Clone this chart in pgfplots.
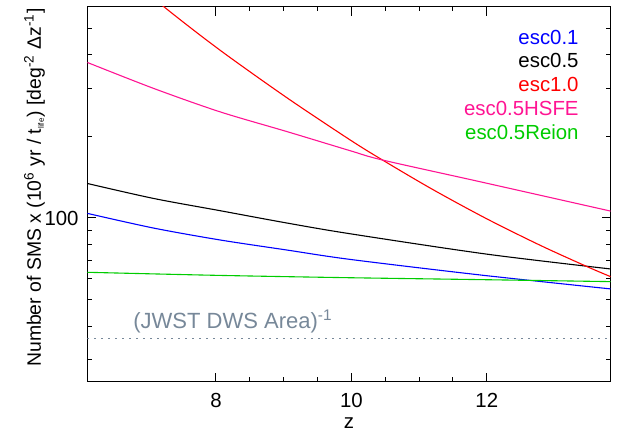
\documentclass[border=0pt]{standalone}
\usepackage{fontspec}
\setmainfont{Liberation Sans}
\usepackage{pgfplots}
\pgfplotsset{compat=1.18}
\definecolor{pinkc}{RGB}{255,20,147}
\definecolor{greenc}{RGB}{0,204,0}
\definecolor{slatec}{RGB}{119,136,153}
\begin{document}
\begin{tikzpicture}
\useasboundingbox (-43.65pt,-24.75pt) rectangle (265.35pt,190.75pt);
\begin{axis}[
  at={(0,0)}, anchor=south west,
  scale only axis, width=261.7pt, height=187.4pt,
  xmin=6.1, xmax=13.83, ymode=log, ymin=25, ymax=600,
  xtick={8,10,12}, minor x tick num=3,
  ytick={100}, yticklabels={100},
  minor ytick={30,40,50,60,70,80,90,200,300,400,500},
  tick align=inside, xtick pos=both, ytick pos=both,
  xticklabel pos=lower, yticklabel pos=left,
  major tick length=4.5pt, minor tick length=2.4pt,
  every tick/.style={black, line width=0.5pt},
  axis line style={line width=0.6pt},
  /pgf/number format/assume math mode=true,
  xticklabel style={inner sep=0pt, anchor=north, yshift=-5.75pt, font=\fontsize{10.2}{12}\selectfont},
  yticklabel style={inner sep=0pt, anchor=east, xshift=-4.15pt, font=\fontsize{10.2}{12}\selectfont},
  every axis plot/.append style={smooth, tension=0.5, line width=0.55pt},
]
\addplot[slatec, line width=0.7pt, dash pattern=on 0.7pt off 2.8pt, sharp plot] coordinates {(6.1,36) (13.83,36)};
\addplot[blue] coordinates {
(6.1,104) (7.08,91.8) (8.06,83) (9.05,76.2) (9.98,70.4) (11.9,61.7) (13.83,54.8)};
\addplot[black] coordinates {
(6.1,134) (7.08,118) (8.06,106.4) (9.05,95.8) (9.98,87.5) (12.0,73.6) (13.83,64.9)};
\addplot[red] coordinates {
(6.1,1025) (7.23,600) (8.06,415) (9.05,277) (9.98,194) (10.46,163.5) (11.2,127.4) (12.0,99.3) (12.8,79.1) (13.5,65.9) (13.83,60.8)};
\addplot[pinkc] coordinates {
(6.1,374) (7.08,300) (8.06,246) (9.05,208) (9.98,177) (10.46,163.5) (11.9,136) (13.83,106)};
\addplot[greenc] coordinates {
(6.1,63.1) (8.0,61.5) (9.9,60.3) (11.9,59.3) (13.83,58.3)};
\end{axis}
\begin{scope}[every node/.style={inner sep=0pt, font=\fontsize{10.2}{12}\selectfont}]
\node[anchor=base east, text=blue] at (245.85pt,168.6pt) {esc0.1};
\node[anchor=base east, text=black] at (245.85pt,156.75pt) {esc0.5};
\node[anchor=base east, text=red] at (245.85pt,144.85pt) {esc1.0};
\node[anchor=base east, text=pinkc] at (245.85pt,133pt) {esc0.5HSFE};
\node[anchor=base east, text=greenc] at (245.85pt,121.1pt) {esc0.5Reion};
\node[anchor=base west, text=slatec, font=\fontsize{11}{13}\selectfont] at (22.85pt,26.6pt) {(JWST DWS Area)\textsuperscript{-1}};
\node[anchor=base] at (130.85pt,-23.75pt) {z};
\node[anchor=base, rotate=90, font=\fontsize{9.7}{12}\selectfont] at (-23.15pt,97pt) {Number of SMS x (10\textsuperscript{6} yr / t\textsubscript{\fontsize{4}{5}\selectfont life}) [deg\textsuperscript{-2} Δz\textsuperscript{-1}]};
\end{scope}
\end{tikzpicture}
\end{document}
